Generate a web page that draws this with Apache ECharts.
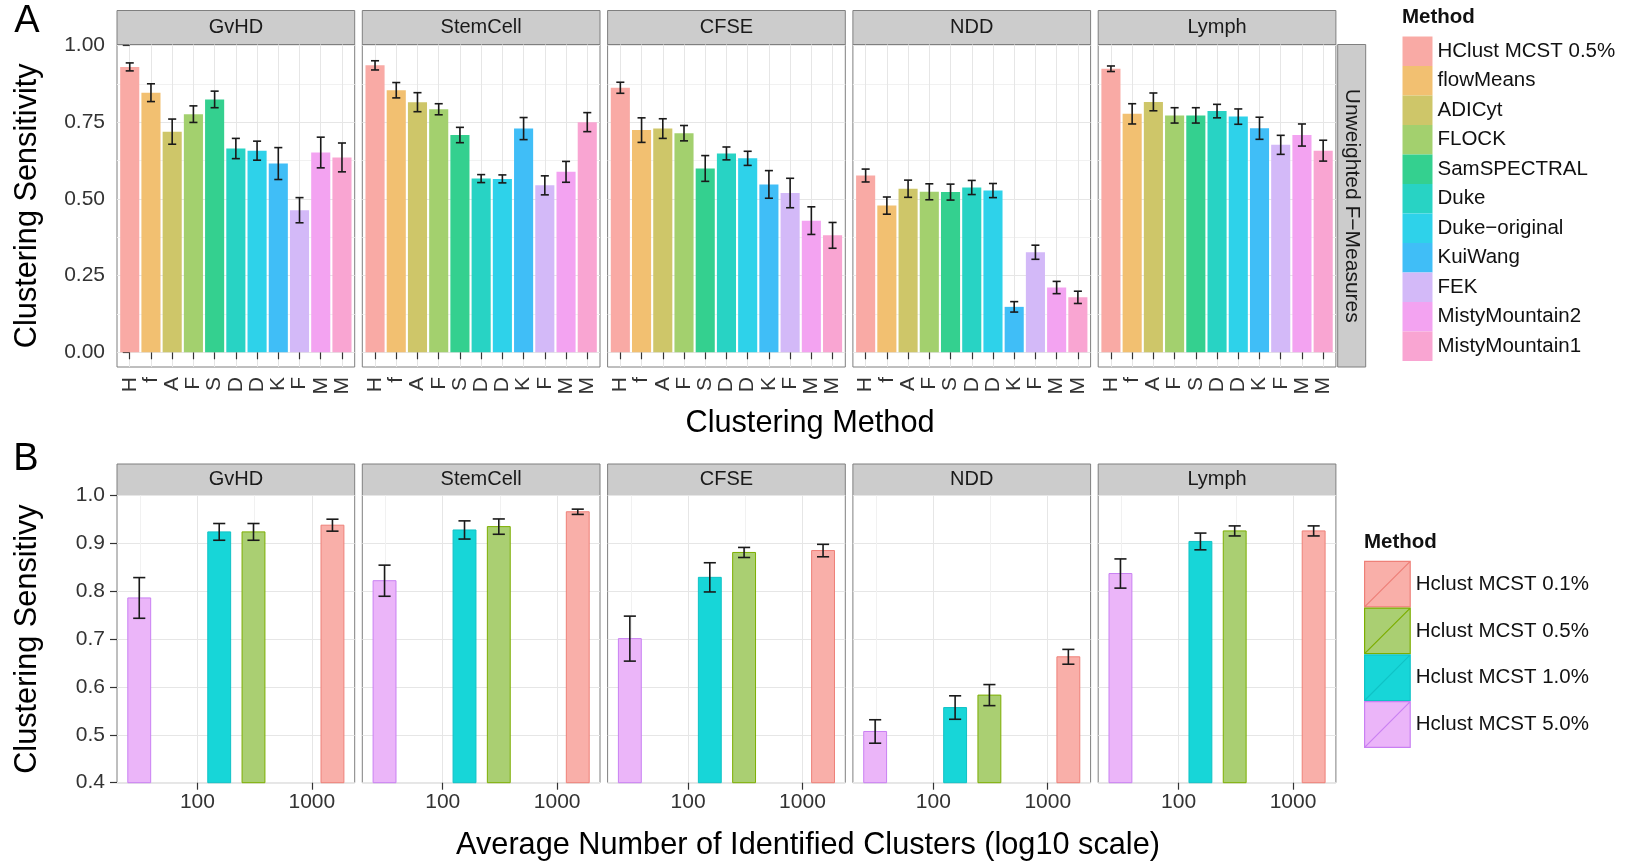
<!DOCTYPE html>
<html><head><meta charset="utf-8">
<script src="https://cdn.jsdelivr.net/npm/echarts@6/dist/echarts.min.js"></script>
<style>html,body{margin:0;padding:0;background:#fff}#c{width:1635px;height:864px}</style>
</head><body><div id="c"></div>
<script>
// ------------------------- DATA -------------------------
const datasets = ['GvHD', 'StemCell', 'CFSE', 'NDD', 'Lymph'];

// Panel A: unweighted F-measures (clustering sensitivity) by method
const methodsA = ['HClust MCST 0.5%', 'flowMeans', 'ADICyt', 'FLOCK', 'SamSPECTRAL', 'Duke',
  'Duke\u2212original', 'KuiWang', 'FEK', 'MistyMountain2', 'MistyMountain1'];
const tickLettersA = ['H', 'f', 'A', 'F', 'S', 'D', 'D', 'K', 'F', 'M', 'M'];
const gvhdA     = [0.930, 0.846, 0.719, 0.776, 0.824, 0.664, 0.657, 0.615, 0.463, 0.651, 0.635];
const gvhdAErr  = [0.013, 0.029, 0.041, 0.027, 0.027, 0.033, 0.031, 0.052, 0.041, 0.050, 0.047];
const stemA     = [0.935, 0.854, 0.815, 0.792, 0.708, 0.566, 0.565, 0.729, 0.544, 0.588, 0.750];
const stemAErr  = [0.015, 0.025, 0.031, 0.018, 0.025, 0.013, 0.013, 0.036, 0.031, 0.034, 0.031];
const cfseA     = [0.862, 0.724, 0.729, 0.714, 0.599, 0.648, 0.632, 0.547, 0.519, 0.429, 0.381];
const cfseAErr  = [0.018, 0.040, 0.032, 0.025, 0.042, 0.021, 0.023, 0.045, 0.048, 0.045, 0.042];
const nddA      = [0.576, 0.478, 0.533, 0.523, 0.522, 0.537, 0.527, 0.148, 0.326, 0.211, 0.179];
const nddAErr   = [0.021, 0.028, 0.028, 0.026, 0.026, 0.023, 0.023, 0.017, 0.023, 0.020, 0.020];
const lymphA    = [0.924, 0.777, 0.816, 0.772, 0.772, 0.786, 0.768, 0.730, 0.676, 0.708, 0.657];
const lymphAErr = [0.009, 0.033, 0.029, 0.025, 0.025, 0.022, 0.025, 0.036, 0.031, 0.036, 0.034];
const yTicksA = [0, 0.25, 0.5, 0.75, 1.0];
const yMinorA = [0.125, 0.375, 0.625, 0.875];

// Panel B: HClust MCST settings vs average number of clusters
const methodsB = ['Hclust MCST 0.1%', 'Hclust MCST 0.5%', 'Hclust MCST 1.0%', 'Hclust MCST 5.0%'];
const clustersB = [1514, 309, 155, 31];
const gvhdB     = [0.938, 0.924, 0.924, 0.786];
const gvhdBErr  = [0.0125, 0.0175, 0.0175, 0.0425];
const stemB     = [0.966, 0.935, 0.928, 0.822];
const stemBErr  = [0.0055, 0.016, 0.019, 0.0325];
const cfseB     = [0.885, 0.881, 0.829, 0.701];
const cfseBErr  = [0.013, 0.0105, 0.0305, 0.047];
const nddB      = [0.663, 0.583, 0.557, 0.507];
const nddBErr   = [0.0155, 0.022, 0.0245, 0.0245];
const lymphB    = [0.926, 0.926, 0.904, 0.837];
const lymphBErr = [0.0105, 0.0105, 0.0175, 0.0305];
const xTicksB = [100, 1000];
const yTicksB = [0.4, 0.5, 0.6, 0.7, 0.8, 0.9, 1.0];

// ------------------------- STYLE / LAYOUT -------------------------
const FONT = '"Liberation Sans", Arial, Helvetica, sans-serif';
const colorsA = ['#F9AAA5', '#F2C071', '#CEC669', '#A3D06E', '#34D08F', '#28D3C4',
  '#2ED2EA', '#40BEF7', '#D3B9F8', '#F3A3F1', '#F9A5D2'];
const fillB = ['#F9AFA9', '#AACF72', '#17D6D8', '#EBB5F9'];
const strokeB = ['#EE8078', '#7CAE00', '#10C2C6', '#C980F2'];

const panelLeft0 = 117, panelW = 237.7, panelPitch = 245.3;
const stripTopA = 10.5, aTop = 44.5, aBottom = 367;
const stripTopB = 464, bTop = 495.5, bBottom = 782.7;
const yRangeA = [-0.048, 1.003];
const yRangeB = [0.4, 1.0];
const barHalfA = 0.45, capHalfA = 0.19;
const barHalfB = 0.1, capHalfB = 0.053;
const GRID_MAJ = '#e6e6e6', GRID_MIN = '#f1f1f1', TXT = '#333';
const TICK_FS = 21, STRIP_FS = 20, LEG_FS = 20.5, TITLE_FS = 30.7;

const valuesA = [gvhdA, stemA, cfseA, nddA, lymphA];
const errsA = [gvhdAErr, stemAErr, cfseAErr, nddAErr, lymphAErr];
const valuesB = [gvhdB, stemB, cfseB, nddB, lymphB];
const errsB = [gvhdBErr, stemBErr, cfseBErr, nddBErr, lymphBErr];

const catIdx = methodsA.map((_, k) => k);
const logX = clustersB.map(v => Math.log10(v));
const lo = Math.min(...logX) - barHalfB, hi = Math.max(...logX) + barHalfB;
const padB = 0.05 * (hi - lo);
const xRangeB = [lo - padB, hi + padB];
const xTicksBLog = xTicksB.map(v => Math.log10(v));
const xMinorBLog = [1.5, 2.5];

const L = i => panelLeft0 + i * panelPitch;

function rectRender(half, base, fill, stroke) {
  return function (params, api) {
    const x = api.value(0), y = api.value(1);
    const p0 = api.coord([x - half, y]);
    const p1 = api.coord([x + half, base]);
    return { type: 'rect', shape: { x: p0[0], y: p0[1], width: p1[0] - p0[0], height: p1[1] - p0[1] },
      style: stroke ? { fill: fill, stroke: stroke, lineWidth: 1 } : { fill: fill } };
  };
}
function errRender(half) {
  return function (params, api) {
    const x = api.value(0), l = api.value(1), h = api.value(2);
    const a = api.coord([x, l]), b = api.coord([x, h]);
    const c1 = api.coord([x - half, l]), c2 = api.coord([x + half, l]);
    const d1 = api.coord([x - half, h]), d2 = api.coord([x + half, h]);
    const st = () => ({ stroke: '#1a1a1a', lineWidth: 1.6 });
    return { type: 'group', children: [
      { type: 'line', shape: { x1: a[0], y1: a[1], x2: b[0], y2: b[1] }, style: st() },
      { type: 'line', shape: { x1: c1[0], y1: c1[1], x2: c2[0], y2: c2[1] }, style: st() },
      { type: 'line', shape: { x1: d1[0], y1: d1[1], x2: d2[0], y2: d2[1] }, style: st() }
    ] };
  };
}

const grid = [], xAxis = [], yAxis = [], series = [], graphic = [];
const tickStyle = { color: TXT, width: 1.2 };

// Panel A grids 0..4 ; xAxis 0..4 ; yAxis 0..9 (major/minor)
datasets.forEach((ds, i) => {
  grid.push({ left: L(i), top: aTop, width: panelW, height: aBottom - aTop, show: true,
    backgroundColor: '#fff', borderColor: '#7f7f7f', borderWidth: 1 });
  xAxis.push({ type: 'value', gridIndex: i, min: -0.6, max: methodsA.length - 1 + 0.6,
    axisLine: { show: false },
    axisTick: { show: true, customValues: catIdx, length: 7, lineStyle: tickStyle },
    axisLabel: { show: true, customValues: catIdx, rotate: 90, margin: 10, fontSize: TICK_FS,
      color: TXT, fontFamily: FONT, formatter: v => tickLettersA[Math.round(v)] },
    splitLine: { show: true, customValues: catIdx, lineStyle: { color: GRID_MAJ, width: 1 } } });
  yAxis.push({ type: 'value', gridIndex: i, min: yRangeA[0], max: yRangeA[1], position: 'left',
    axisLine: { show: false },
    axisTick: { show: i === 0, customValues: yTicksA, length: 7, lineStyle: tickStyle },
    axisLabel: { show: i === 0, customValues: yTicksA, margin: 12, fontSize: TICK_FS, color: TXT,
      fontFamily: FONT, formatter: v => v.toFixed(2) },
    splitLine: { show: true, customValues: yTicksA, lineStyle: { color: GRID_MAJ, width: 1 } } });
  yAxis.push({ type: 'value', gridIndex: i, min: yRangeA[0], max: yRangeA[1], position: 'left',
    axisLine: { show: false },
    axisTick: { show: false, customValues: yMinorA },
    axisLabel: { show: false, customValues: yMinorA },
    splitLine: { show: true, customValues: yMinorA, lineStyle: { color: GRID_MIN, width: 1 } } });
  methodsA.forEach((m, k) => {
    series.push({ type: 'custom', name: m, xAxisIndex: i, yAxisIndex: 2 * i, silent: true, z: 2,
      itemStyle: { color: colorsA[k] },
      renderItem: rectRender(barHalfA, 0, colorsA[k]),
      data: [[k, valuesA[i][k]]] });
  });
  series.push({ type: 'custom', xAxisIndex: i, yAxisIndex: 2 * i, silent: true, z: 3,
    renderItem: errRender(capHalfA),
    data: valuesA[i].map((v, k) => [k, v - errsA[i][k], v + errsA[i][k]]) });

  graphic.push({ type: 'rect', shape: { x: L(i), y: stripTopA, width: panelW, height: aTop - stripTopA },
    style: { fill: '#cccccc', stroke: '#7f7f7f', lineWidth: 1 } });
  graphic.push({ type: 'text', x: L(i) + panelW / 2, y: (stripTopA + aTop) / 2,
    style: { text: ds, fontSize: STRIP_FS, fontFamily: FONT, fill: '#1a1a1a', align: 'center', verticalAlign: 'middle' } });
});

// Panel B grids 5..9 ; xAxis 5..9 major, 10..14 minor ; yAxis 10..14
datasets.forEach((ds, i) => {
  grid.push({ left: L(i), top: bTop, width: panelW, height: bBottom - bTop, show: true,
    backgroundColor: '#fff', borderColor: '#7f7f7f', borderWidth: 1 });
  graphic.push({ type: 'rect', shape: { x: L(i), y: stripTopB, width: panelW, height: bTop - stripTopB },
    style: { fill: '#cccccc', stroke: '#7f7f7f', lineWidth: 1 } });
  graphic.push({ type: 'text', x: L(i) + panelW / 2, y: (stripTopB + bTop) / 2,
    style: { text: ds, fontSize: STRIP_FS, fontFamily: FONT, fill: '#1a1a1a', align: 'center', verticalAlign: 'middle' } });
});
datasets.forEach((ds, i) => {
  const g = 5 + i;
  xAxis.push({ type: 'value', gridIndex: g, min: xRangeB[0], max: xRangeB[1],
    axisLine: { show: false },
    axisTick: { show: true, customValues: xTicksBLog, length: 7, lineStyle: tickStyle },
    axisLabel: { show: true, customValues: xTicksBLog, margin: 9, fontSize: TICK_FS, color: TXT,
      fontFamily: FONT, formatter: v => String(Math.round(Math.pow(10, v))) },
    splitLine: { show: true, customValues: xTicksBLog, lineStyle: { color: GRID_MAJ, width: 1 } } });
});
datasets.forEach((ds, i) => {
  const g = 5 + i;
  xAxis.push({ type: 'value', gridIndex: g, min: xRangeB[0], max: xRangeB[1], position: 'bottom',
    axisLine: { show: false },
    axisTick: { show: false, customValues: xMinorBLog },
    axisLabel: { show: false, customValues: xMinorBLog },
    splitLine: { show: true, customValues: xMinorBLog, lineStyle: { color: GRID_MIN, width: 1 } } });
});
datasets.forEach((ds, i) => {
  const g = 5 + i;
  yAxis.push({ type: 'value', gridIndex: g, min: yRangeB[0], max: yRangeB[1], position: 'left',
    axisLine: { show: false },
    axisTick: { show: i === 0, customValues: yTicksB, length: 7, lineStyle: tickStyle },
    axisLabel: { show: i === 0, customValues: yTicksB, margin: 12, fontSize: TICK_FS, color: TXT,
      fontFamily: FONT, formatter: v => v.toFixed(1) },
    splitLine: { show: true, customValues: yTicksB, lineStyle: { color: GRID_MAJ, width: 1 } } });
  methodsB.forEach((m, k) => {
    series.push({ type: 'custom', name: m, xAxisIndex: 5 + i, yAxisIndex: 10 + i, silent: true, z: 2,
      itemStyle: { color: fillB[k], borderColor: strokeB[k] },
      renderItem: rectRender(barHalfB, yRangeB[0], fillB[k], strokeB[k]),
      data: [[logX[k], valuesB[i][k]]] });
  });
  series.push({ type: 'custom', xAxisIndex: 5 + i, yAxisIndex: 10 + i, silent: true, z: 3,
    renderItem: errRender(capHalfB),
    data: valuesB[i].map((v, k) => [logX[k], v - errsB[i][k], v + errsB[i][k]]) });
});

// right strip of panel A
const lastRight = L(datasets.length - 1) + panelW;
graphic.push({ type: 'rect', shape: { x: lastRight + 1.8, y: aTop, width: 28, height: aBottom - aTop },
  style: { fill: '#cccccc', stroke: '#7f7f7f', lineWidth: 1 } });
graphic.push({ type: 'text', x: lastRight + 1.8 + 14, y: (aTop + aBottom) / 2, rotation: -Math.PI / 2,
  style: { text: 'Unweighted F\u2212Measures', fontSize: 21, fontFamily: FONT, fill: '#1a1a1a', align: 'center', verticalAlign: 'middle' } });

// titles / labels
function txt(t, x, y, size, opts) {
  return Object.assign({ type: 'text', x: x, y: y,
    style: Object.assign({ text: t, fontSize: size, fontFamily: FONT, fill: '#000', align: 'center', verticalAlign: 'middle' }, (opts && opts.style) || {}) },
    (opts && opts.el) || {});
}
graphic.push(txt('A', 27, 22, 38));
graphic.push(txt('B', 26, 460, 38));
graphic.push(txt('Clustering Sensitivity', 28, (aTop + aBottom) / 2, TITLE_FS, { el: { rotation: Math.PI / 2 } }));
graphic.push(txt('Clustering Sensitivy', 28, (bTop + bBottom) / 2, TITLE_FS, { el: { rotation: Math.PI / 2 } }));
graphic.push(txt('Clustering Method', 810, 424, TITLE_FS));
graphic.push(txt('Average Number of Identified Clusters (log10 scale)', 808, 846, TITLE_FS));
graphic.push(txt('Method', 1402, 17, LEG_FS, { style: { align: 'left', fontWeight: 'bold', fill: '#111' } }));
graphic.push(txt('Method', 1364, 542, LEG_FS, { style: { align: 'left', fontWeight: 'bold', fill: '#111' } }));

const option = {
  animation: false,
  backgroundColor: '#fff',
  grid: grid, xAxis: xAxis, yAxis: yAxis, series: series,
  graphic: { elements: graphic },
  legend: [
    { orient: 'vertical', left: 1402.5, top: 36.5, padding: 0, itemWidth: 30, itemHeight: 29.5, itemGap: 0,
      selectedMode: false, icon: 'rect',
      textStyle: { fontSize: LEG_FS, fontFamily: FONT, color: '#111' },
      data: methodsA.map((m, k) => ({ name: m, icon: 'rect', itemStyle: { color: colorsA[k], borderWidth: 0 } })) },
    { orient: 'vertical', left: 1364, top: 560.7, padding: 0, itemWidth: 46.7, itemHeight: 45.6, itemGap: 0,
      selectedMode: false,
      textStyle: { fontSize: LEG_FS, fontFamily: FONT, color: '#111' },
      data: methodsB.map((m, k) => ({ name: m, icon: 'path://M0,0L46,0L46,46L0,46Z M0,46L46,0',
        itemStyle: { color: fillB[k], borderColor: strokeB[k], borderWidth: 1.2 } })) }
  ]
};
const chart = echarts.init(document.getElementById('c'));
chart.setOption(option);
</script></body></html>
